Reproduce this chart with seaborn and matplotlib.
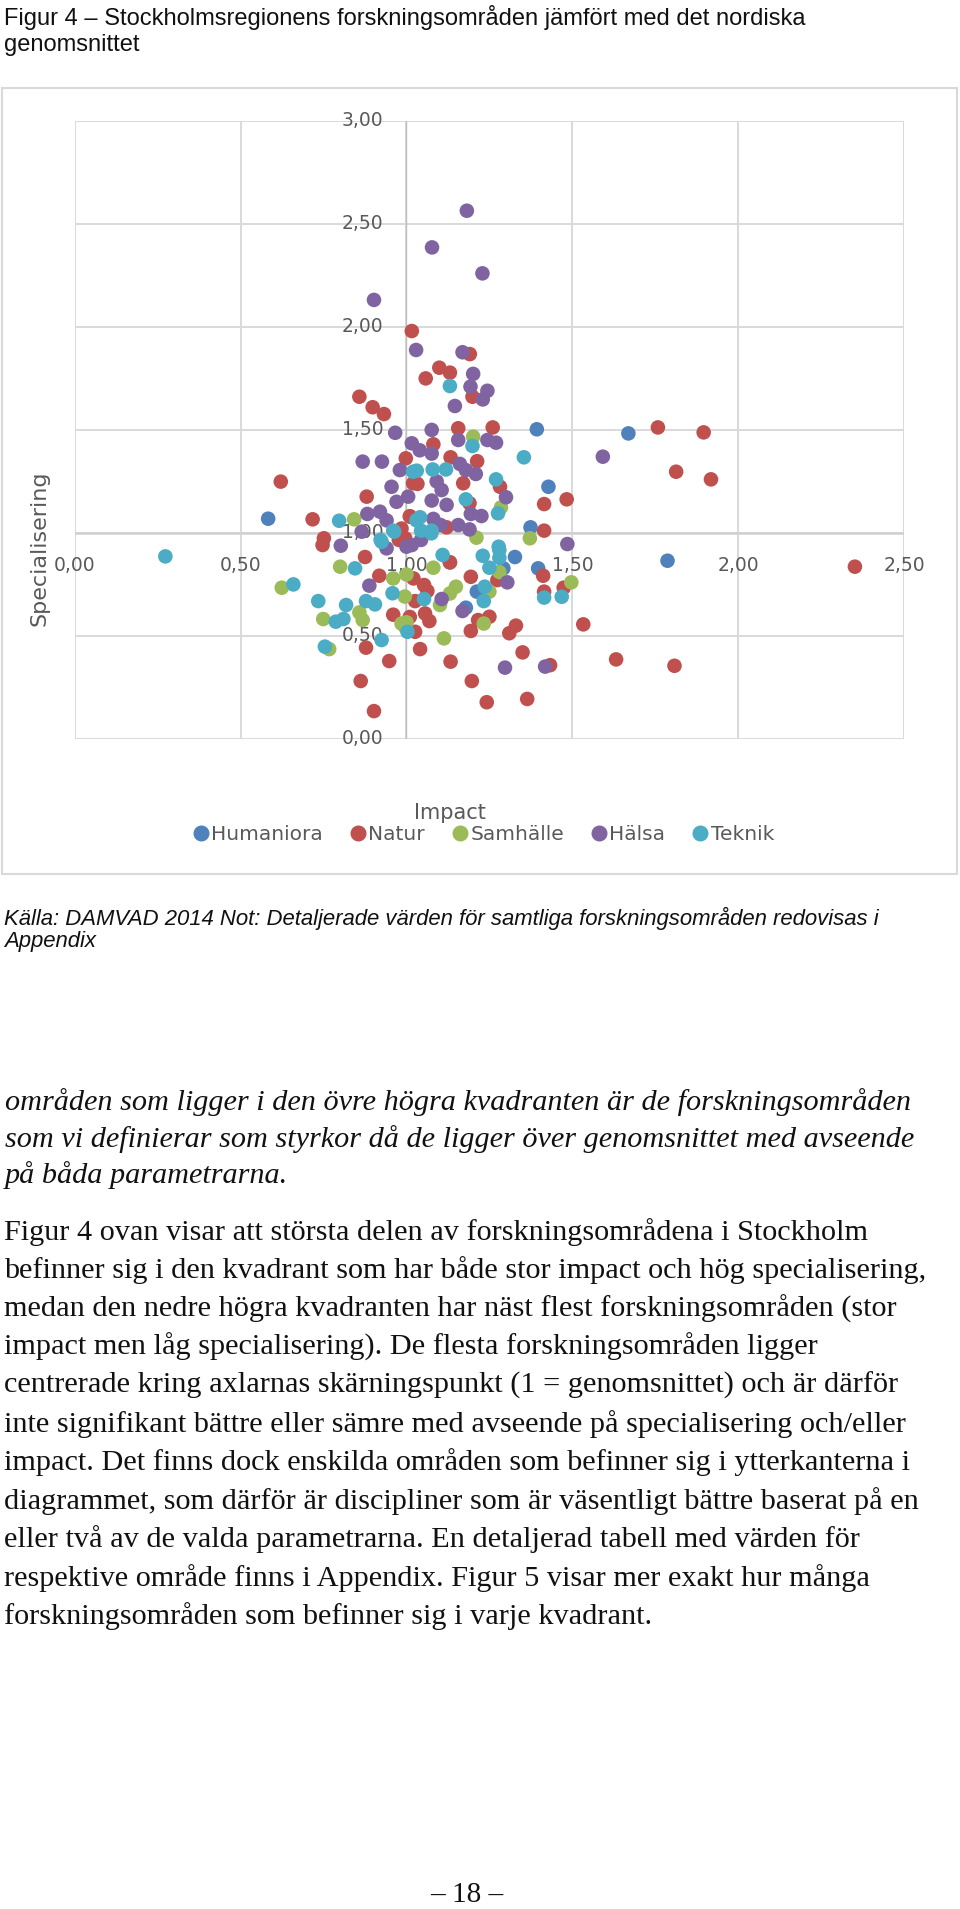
import matplotlib
matplotlib.use("Agg")
import matplotlib.pyplot as plt
import matplotlib.transforms as mtransforms
from matplotlib.lines import Line2D
from matplotlib.patches import Rectangle
import seaborn as sns
import pandas as pd

# research areas (series) and their colours, in Excel draw order
categories = ["Humaniora", "Natur", "Samhälle", "Hälsa", "Teknik"]
colors = ["#4F81BD", "#C0504D", "#9BBB59", "#8064A2", "#4BACC6"]

# (impact, specialisering)
hum_impact = [0.583, 1.393, 1.669, 1.428, 1.374, 1.327, 1.397, 1.292, 1.212, 1.179, 1.131, 1.787]
hum_spec = [1.068, 1.502, 1.482, 1.223, 1.026, 0.882, 0.827, 0.827, 0.714, 0.636, 0.856, 0.864]

nat_impact = [1.016, 0.858, 0.898, 0.932, 0.998, 1.02, 0.621, 0.880, 1.01, 0.717, 0.751, 0.985,
              1.191, 1.099, 1.131, 1.058, 1.199, 1.156, 1.26, 1.081, 1.133, 1.213, 1.171, 1.033,
              1.282, 1.415, 1.483, 1.19, 1.011, 1.121, 1.415,
              0.747, 0.875, 0.918, 0.960, 1.01, 0.878, 0.948, 0.862, 0.902, 0.996,
              1.131, 1.412, 1.274, 1.194, 1.021, 1.053, 1.063, 1.026, 1.056, 1.069, 1.216, 1.25,
              1.194, 1.31, 1.33, 1.415, 1.474, 1.533, 1.041, 1.133, 1.35, 1.433, 1.197, 1.242,
              1.364, 1.026, 1.758, 1.896, 1.813, 1.918, 1.632, 1.808, 2.352, 0.977]
nat_spec = [1.979, 1.66, 1.609, 1.576, 1.361, 1.24, 1.248, 1.175, 1.08, 1.065, 0.973, 1.02,
            1.867, 1.801, 1.777, 1.749, 1.66, 1.507, 1.511, 1.429, 1.366, 1.347, 1.24, 1.237,
            1.223, 1.139, 1.162, 1.143, 1.078, 1.026, 1.01,
            0.94, 0.882, 0.791, 0.602, 0.591, 0.442, 0.377, 0.28, 0.134, 0.973,
            0.856, 0.791, 0.77, 0.786, 0.778, 0.746, 0.717, 0.668, 0.608, 0.571, 0.576, 0.592,
            0.523, 0.512, 0.549, 0.714, 0.733, 0.555, 0.435, 0.374, 0.419, 0.357, 0.28, 0.177,
            0.193, 0.519, 1.511, 1.487, 1.296, 1.259, 0.385, 0.354, 0.835, 0.965]

sam_impact = [0.842, 1.201, 1.285, 1.372, 1.211, 0.8, 0.960, 1.0, 0.995, 0.624, 0.749, 0.858,
              0.868, 0.985, 0.996, 0.767, 1.081, 1.28, 1.149, 1.131, 1.101, 1.25, 1.233, 1.497,
              1.113, 1.0]
sam_spec = [1.065, 1.466, 1.123, 0.973, 0.976, 0.835, 0.778, 0.797, 0.69, 0.733, 0.581, 0.613,
            0.576, 0.559, 0.543, 0.435, 0.83, 0.809, 0.738, 0.705, 0.649, 0.714, 0.559, 0.759,
            0.487, 0.565]

hal_impact = [1.182, 1.077, 1.229, 0.902, 1.029, 0.966, 1.016, 0.868, 0.926, 0.980, 0.955, 0.970,
              1.005, 0.882, 0.92, 0.94, 0.865, 1.169, 1.201, 1.193, 1.244, 1.23, 1.146, 1.076,
              1.156, 1.244, 1.27, 1.04, 1.076, 1.161, 1.209, 1.179, 1.091, 1.106, 1.30, 1.076,
              1.121, 1.194, 1.226, 1.081, 1.156, 1.19, 1.485, 0.802, 0.888, 0.94, 1.016, 1.304,
              1.106, 1.169, 1.297, 1.418, 1.592, 1.0, 1.044, 1.103]
hal_spec = [2.563, 2.385, 2.259, 2.13, 1.887, 1.485, 1.434, 1.345, 1.345, 1.304, 1.223, 1.15,
            1.175, 1.091, 1.102, 1.06, 1.005, 1.876, 1.771, 1.709, 1.689, 1.647, 1.615, 1.499,
            1.45, 1.45, 1.437, 1.40, 1.384, 1.334, 1.285, 1.304, 1.249, 1.207, 1.172, 1.156,
            1.135, 1.091, 1.081, 1.067, 1.037, 1.016, 0.945, 0.937, 0.743, 0.924, 0.94, 0.759,
            0.678, 0.62, 0.345, 0.35, 1.369, 0.932, 0.965, 1.037]

tek_impact = [0.273, 1.02, 0.797, 1.03, 0.96, 1.131, 1.354, 1.199, 1.031, 1.079, 1.119, 1.27,
              1.179, 1.276, 1.041, 1.076, 0.845, 0.958, 0.659, 0.734, 0.818, 0.878, 0.905, 0.787,
              0.810, 1.003, 0.925, 0.754, 0.925, 0.963, 1.109, 1.23, 1.28, 1.25, 1.28, 1.053,
              1.236, 1.233, 1.415, 1.468, 0.922, 1.044, 1.075, 1.278]
tek_spec = [0.885, 1.296, 1.058, 1.06, 1.01, 1.712, 1.366, 1.421, 1.301, 1.307, 1.307, 1.259,
            1.162, 1.094, 1.075, 1.01, 0.827, 0.706, 0.749, 0.668, 0.649, 0.668, 0.652, 0.568,
            0.581, 0.519, 0.479, 0.447, 0.956, 1.005, 0.892, 0.888, 0.916, 0.83, 0.878, 0.678,
            0.738, 0.668, 0.685, 0.689, 0.965, 1.01, 0.997, 0.932]

x_ticks = [0.0, 0.5, 1.0, 1.5, 2.0, 2.5]
y_ticks = [0.0, 0.5, 1.0, 1.5, 2.0, 2.5, 3.0]

title_lines = ["Figur 4 \u2013 Stockholmsregionens forskningsområden jämfört med det nordiska",
               "genomsnittet"]
source_lines = ["Källa: DAMVAD 2014 Not: Detaljerade värden för samtliga forskningsområden redovisas i",
                "Appendix"]
italic_lines = ["områden som ligger i den övre högra kvadranten är de forskningsområden",
                "som vi definierar som styrkor då de ligger över genomsnittet med avseende",
                "på båda parametrarna."]
body_lines = ["Figur 4 ovan visar att största delen av forskningsområdena i Stockholm",
              "befinner sig i den kvadrant som har både stor impact och hög specialisering,",
              "medan den nedre högra kvadranten har näst flest forskningsområden (stor",
              "impact men låg specialisering). De flesta forskningsområden ligger",
              "centrerade kring axlarnas skärningspunkt (1 = genomsnittet) och är därför",
              "inte signifikant bättre eller sämre med avseende på specialisering och/eller",
              "impact. Det finns dock enskilda områden som befinner sig i ytterkanterna i",
              "diagrammet, som därför är discipliner som är väsentligt bättre baserat på en",
              "eller två av de valda parametrarna. En detaljerad tabell med värden för",
              "respektive område finns i Appendix. Figur 5 visar mer exakt hur många",
              "forskningsområden som befinner sig i varje kvadrant."]

series = [(hum_impact, hum_spec), (nat_impact, nat_spec), (sam_impact, sam_spec),
          (hal_impact, hal_spec), (tek_impact, tek_spec)]
frames = []
for name, (xs, ys) in zip(categories, series):
    frames.append(pd.DataFrame({"Impact": xs, "Specialisering": ys, "Område": name}))
df = pd.concat(frames, ignore_index=True)

sns.set_theme(style="white")
plt.rcParams['font.family'] = ['DejaVu Sans']

W, H = 960, 1909
fig = plt.figure(figsize=(W / 100, H / 100), dpi=100)


def fx(px):
    return px / W


def fy(px):
    return 1 - px / H


gray = "#595959"

ax = fig.add_axes([fx(74.8), fy(738.7), fx(904) - fx(74.8), fy(120.7) - fy(738.7)])
sns.scatterplot(data=df, x="Impact", y="Specialisering", hue="Område", hue_order=categories,
                palette=dict(zip(categories, colors)), s=110, linewidth=0, legend=False,
                ax=ax, zorder=3)
ax.set_xlim(0, 2.5)
ax.set_ylim(0, 3)
ax.set_xticks(x_ticks)
ax.set_yticks(y_ticks)
ax.grid(True, color="#d9d9d9", lw=1.4)
ax.set_axisbelow(True)
ax.tick_params(length=0, labelbottom=False, labelleft=False)
for s in ax.spines.values():
    s.set_visible(False)
ax.set_xlabel("")
ax.set_ylabel("")
ax.axvline(1, color="#bfbfbf", lw=1.0, zorder=1)
ax.axhline(1, color="#d0d0d0", lw=1.8, zorder=1)

# tick labels sit along the axes that cross at (1, 1)
below = mtransforms.offset_copy(ax.transData, fig=fig, x=0, y=-33, units="dots")
left = mtransforms.offset_copy(ax.transData, fig=fig, x=-23, y=0, units="dots")
for v in x_ticks:
    ax.text(v, 1, f"{v:.2f}".replace(".", ","), transform=below, ha="center", va="center",
            fontsize=13.5, color=gray, zorder=2)
for v in y_ticks:
    ax.text(1, v, f"{v:.2f}".replace(".", ","), transform=left, ha="right", va="center",
            fontsize=13.5, color=gray, zorder=2)

fig.text(fx(450), fy(813), "Impact", ha="center", va="center", fontsize=15, color=gray)
fig.text(fx(40), fy(548), "Specialisering", ha="center", va="center", rotation=90,
         fontsize=16, color=gray)

handles = [Line2D([], [], marker="o", ls="", color=c, markersize=10.5) for c in colors]
fig.legend(handles, categories, loc="center", bbox_to_anchor=(fx(484), fy(835)), ncol=5,
           frameon=False, handlelength=0.7, handletextpad=0.15, columnspacing=1.4,
           fontsize=14.5, labelcolor=gray)

fig.add_artist(Rectangle((fx(2), fy(874)), fx(957) - fx(2), fy(88) - fy(874),
                         transform=fig.transFigure, fill=False, ec="#d9d9d9", lw=1.5))

ink = "#111111"
for i, line in enumerate(title_lines):
    fig.text(fx(4), fy(17 + 28 * i), line, ha="left", va="center", fontsize=17,
             family="Liberation Sans", color=ink)
for i, line in enumerate(source_lines):
    fig.text(fx(4), fy(918.6 + 23.1 * i), line, ha="left", va="center", fontsize=15.9,
             family="Liberation Sans", style="italic", color=ink)
for i, line in enumerate(italic_lines):
    fig.text(fx(5), fy(1102.3 + 36.5 * i), line, ha="left", va="center", fontsize=21.8,
             family="Liberation Serif", style="italic", color=ink)
for i, line in enumerate(body_lines):
    fig.text(fx(4), fy(1232 + 38.4 * i), line, ha="left", va="center", fontsize=21.8,
             family="Liberation Serif", color=ink)
fig.text(fx(467), fy(1895), "\u2013 18 \u2013", ha="center", va="center", fontsize=21,
         family="Liberation Serif", color=ink)

fig.savefig("out.png", dpi=100)
